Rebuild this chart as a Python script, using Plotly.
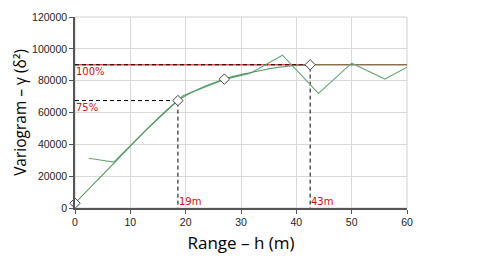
import plotly.graph_objects as go

# Experimental variogram
exp_h = [2.5, 7, 13, 19.5, 27, 31.6, 37.5, 44, 50, 56, 60]
exp_g = [31300, 28800, 49500, 70500, 80800, 84500, 96000, 72000, 91000, 81000, 88500]

# Model curve
mod_h = [0, 7, 12, 18.6, 21, 27, 31.6, 36, 40, 42.5]
mod_g = [3000, 28000, 46000, 67500, 72500, 81000, 85000, 88000, 89500, 90000]

# Marked model points
pt_h = [0, 18.6, 27, 42.5]
pt_g = [3000, 67500, 81000, 90000]

sill = 90000
range75 = 18.6
range100 = 42.5
xmax = 60

fig = go.Figure()

fig.add_trace(go.Scatter(x=[0, range100], y=[sill, sill], mode="lines",
                         line=dict(color="#e05050", width=1.5), hoverinfo="skip"))
fig.add_trace(go.Scatter(x=[range100, xmax], y=[sill, sill], mode="lines",
                         line=dict(color="#8a7250", width=1.5), hoverinfo="skip"))
fig.add_trace(go.Scatter(x=[0, range100, range100], y=[sill, sill, 0], mode="lines",
                         line=dict(color="black", width=1, dash="4px,3px"), hoverinfo="skip"))
fig.add_trace(go.Scatter(x=[0, range75, range75], y=[0.75 * sill, 0.75 * sill, 0], mode="lines",
                         line=dict(color="black", width=1, dash="4px,3px"), hoverinfo="skip"))
fig.add_trace(go.Scatter(x=exp_h, y=exp_g, mode="lines",
                         line=dict(color="#6aa97c", width=1.1), hoverinfo="skip"))
fig.add_trace(go.Scatter(x=mod_h, y=mod_g, mode="lines",
                         line=dict(color="#4f9560", width=1.1, shape="spline"), hoverinfo="skip"))
fig.add_trace(go.Scatter(x=pt_h, y=pt_g, mode="markers",
                         marker=dict(symbol="diamond", size=8, color="white",
                                     line=dict(color="#444", width=1)), hoverinfo="skip",
                         cliponaxis=False))

red = "#d01010"
ann = [
    dict(x=0, y=sill, text="100%", xanchor="left", yanchor="top"),
    dict(x=0, y=0.75 * sill, text="75%", xanchor="left", yanchor="top"),
    dict(x=range75, y=0, text="19m", xanchor="left", yanchor="bottom"),
    dict(x=range100, y=0, text="43m", xanchor="left", yanchor="bottom"),
]
for a in ann:
    fig.add_annotation(x=a["x"], y=a["y"], text=a["text"], xanchor=a["xanchor"],
                       yanchor=a["yanchor"], showarrow=False,
                       font=dict(color=red, size=10, family="DejaVu Sans"),
                       borderpad=0)

fig.update_layout(
    width=480, height=262,
    margin=dict(l=75, r=73, t=17, b=54),
    paper_bgcolor="white", plot_bgcolor="white",
    showlegend=False,
    font=dict(family="Liberation Sans", size=10, color="#222"),
    xaxis=dict(range=[0, xmax], tickvals=[0, 10, 20, 30, 40, 50, 60],
               showgrid=True, gridcolor="#d9d9d9", gridwidth=1,
               zeroline=False, showline=True, linecolor="#555", linewidth=1.5,
               ticks="outside", ticklen=4, tickcolor="#555",
               tickfont=dict(family="Liberation Sans", size=10.5, color="#222"),
               title=dict(text="Range – h (m)", font=dict(family="Open Sans", size=17, color="black"),
                          standoff=10)),
    yaxis=dict(range=[0, 120000], tickvals=[0, 20000, 40000, 60000, 80000, 100000, 120000],
               tickformat="d",
               showgrid=True, gridcolor="#d9d9d9", gridwidth=1,
               zeroline=False, showline=True, linecolor="#555", linewidth=1.5,
               ticks="outside", ticklen=4, tickcolor="#555",
               tickfont=dict(family="Liberation Sans", size=10.5, color="#222"),
               title=dict(text="Variogram – γ (δ²)", font=dict(family="Open Sans", size=15.5, color="black"),
                          standoff=2)),
    shapes=[dict(type="rect", xref="paper", yref="paper", x0=0, y0=0, x1=1, y1=1,
                 line=dict(color="#d0d0d0", width=1), layer="below")],
)

fig.write_html("out.html")
